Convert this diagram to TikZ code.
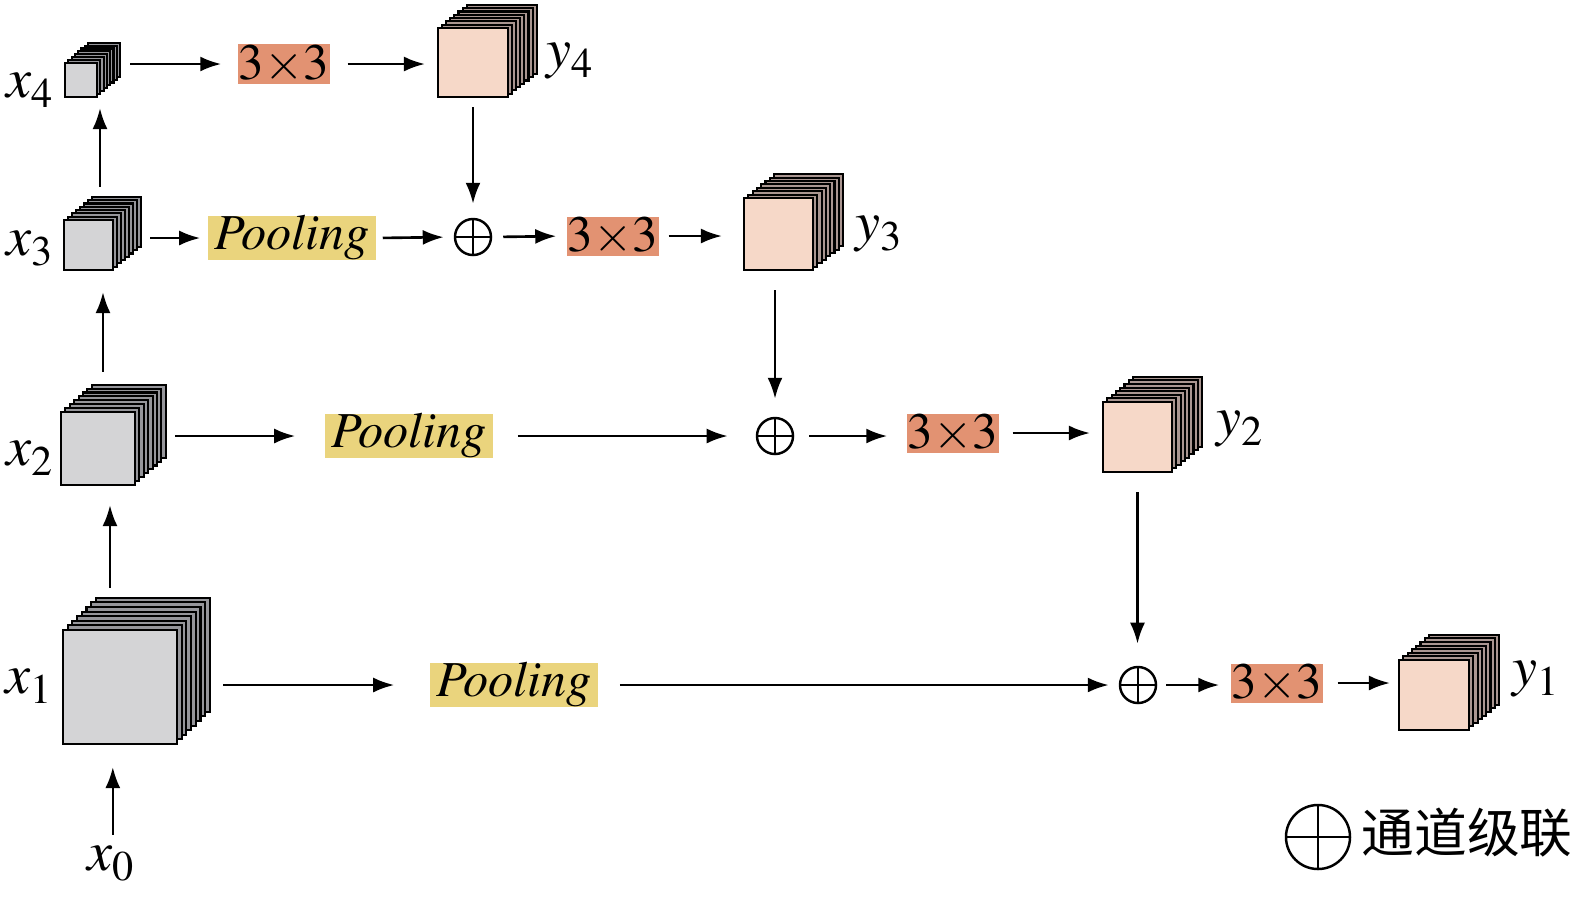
\documentclass[tikz,border=0pt]{standalone}
\usepackage[T1,TU]{fontenc}
\usepackage{fontspec}
\newfontfamily\cjk{Noto Sans CJK SC}
\newcommand\tms{\fontencoding{T1}\fontfamily{ptm}\selectfont}
\usetikzlibrary{arrows.meta}
\definecolor{convfill}{RGB}{226,146,114}
\definecolor{poolfill}{RGB}{234,212,125}
\definecolor{xface}{RGB}{212,212,214}
\definecolor{xback}{RGB}{150,150,155}
\definecolor{yface}{RGB}{246,216,200}
\definecolor{yback}{RGB}{170,150,145}
\newcommand\lab[2]{\textit{#1}\raisebox{-3pt}{\fontsize{12}{12}\selectfont #2}}
\newcommand\featstack[8]{%
  \foreach \k in {7,...,1}
    \draw[fill=#8back,line width=0.6pt] (#2-#4/2+\k*#6,#3-#5/2-\k*#7) rectangle ++(#4,#5);
  \node[fmap,fill=#8face,minimum width=#4*0.1mm,minimum height=#5*0.1mm] (#1) at (#2,#3) {};
}
\tikzset{
  fmap/.style={draw,line width=0.8pt,inner sep=0pt,outer sep=0pt},
  convbox/.style={fill=convfill,inner sep=0pt,minimum width=9.2mm,minimum height=3.9mm,font=\tms\fontsize{14.5}{14.5}\selectfont},
  poolbox/.style={fill=poolfill,inner sep=0pt,minimum width=16.8mm,minimum height=4.3mm,font=\tms\fontsize{14.3}{14.3}\selectfont\itshape},
  cat/.style={circle,draw,line width=0.7pt,inner sep=0pt,minimum size=3.6mm,
    path picture={\draw[line width=0.7pt] (path picture bounding box.north) -- (path picture bounding box.south)
      (path picture bounding box.west) -- (path picture bounding box.east);}},
  lbl/.style={inner sep=0pt,anchor=base west,font=\tms\fontsize{16}{16}\selectfont},
  arr/.style={-{Latex[length=2.1mm,width=1.5mm]},line width=0.75pt}
}
\begin{document}
\begin{tikzpicture}[x=0.01cm,y=-0.01cm]
    \useasboundingbox (0,0) rectangle (1575,908);
    \featstack{x4}{81}{80}{32}{34}{3.3}{2.9}{x}
    \featstack{x3}{88.5}{245}{49}{50}{4}{3.3}{x}
    \featstack{x2}{98}{448.5}{74}{73}{4.4}{3.9}{x}
    \featstack{x1}{120}{687}{114}{114}{4.7}{4.6}{x}
    \featstack{y4}{473}{62.5}{70}{69}{4.1}{3.3}{y}
    \featstack{y3}{778.5}{234}{69}{72}{4.3}{3.4}{y}
    \featstack{y2}{1137.5}{437}{69}{70}{4.3}{3.6}{y}
    \featstack{y1}{1434}{695}{70}{70}{4.3}{3.6}{y}
    \begin{scope}[every node/.style={lbl}]
        \node (lx4) at (6,97) {\lab{x}{4}};
        \node (lx3) at (6,255) {\lab{x}{3}};
        \node (lx2) at (6,465) {\lab{x}{2}};
        \node (lx1) at (5,693) {\lab{x}{1}};
        \node (x0) at (87,870) {\lab{x}{0}};
        \node (ly4) at (546,67) {\lab{y}{4}};
        \node (ly3) at (855,240) {\lab{y}{3}};
        \node (ly2) at (1216,435) {\lab{y}{2}};
        \node (ly1) at (1512,685) {\lab{y}{1}};
    \end{scope}
    \node[convbox] (c4) at (284,64) {3$\times$3};
    \node[convbox] (c3) at (613,236) {3$\times$3};
    \node[convbox] (c2) at (953,433) {3$\times$3};
    \node[convbox] (c1) at (1277,683) {3$\times$3};
    \node[poolbox] (p1) at (292,238) {Pooling};
    \node[poolbox] (p2) at (409,436) {Pooling};
    \node[poolbox] (p3) at (514,685) {Pooling};
    \node[cat] (o1) at (473,237) {};
    \node[cat] (o2) at (775,436) {};
    \node[cat] (o3) at (1138,685) {};
    \node[cat,minimum size=6.4mm] (key) at (1318,837) {};
    \node[anchor=west,inner sep=0pt,font=\cjk\fontsize{15}{15}\selectfont] (keytext) at (1361,833) {通道级联};
    \begin{scope}[every edge/.style={draw,arr}]
        \path
            (x4.east |- c4.west) edge [shorten <=3.3mm,shorten >=1.6mm] (c4.west)
            (c4.east) edge [shorten <=1.7mm,shorten >=1.3mm] (c4.east -| y4.west)
            (y4.south) edge [shorten <=1mm,shorten >=1.4mm] (o1.north)
            (x3.east |- p1.west) edge [shorten <=3.7mm,shorten >=0.7mm] (p1.west)
            (p1.east) edge [shorten <=0.6mm,shorten >=1mm] (o1.west)
            (o1.east) edge [shorten <=1.1mm,shorten >=1mm] (c3.west)
            (c3.east) edge [shorten <=0.9mm,shorten >=2.2mm] (c3.east -| y3.west)
            (o2.north |- y3.south) edge [shorten <=2mm,shorten >=1.8mm] (o2.north)
            (x2.east |- p2.west) edge [shorten <=4mm,shorten >=2.9mm] (p2.west)
            (p2.east) edge [shorten <=2.4mm,shorten >=2.8mm] (o2.west)
            (o2.east) edge [shorten <=1.5mm,shorten >=1.9mm] (o2.east -| c2.west)
            (c2.east) edge [shorten <=1.3mm,shorten >=1.3mm] (c2.east -| y2.west)
            (y2.south) edge [shorten <=2mm,shorten >=2.2mm] (y2.south |- o3.north)
            (x1.east |- p3.west) edge [shorten <=4.6mm,shorten >=3.5mm] (p3.west)
            (p3.east) edge [shorten <=2.1mm,shorten >=1mm] (o3.west)
            (o3.east) edge [shorten <=0.9mm,shorten >=1.1mm] (o3.east -| c1.west)
            (c1.east) edge [shorten <=1.4mm,shorten >=0.9mm] (c1.east -| y1.west)
            ([xshift=0.2mm]x0.north) edge [shorten <=1mm,shorten >=2.3mm] ([xshift=0.2mm]x0.north |- x1.south)
            ([xshift=-1mm]x1.north) edge [shorten <=4.2mm,shorten >=2mm] ([xshift=-1mm]x1.north |- x2.south)
            ([xshift=0.5mm]x2.north) edge [shorten <=4mm,shorten >=2.2mm] ([xshift=0.5mm]x2.north |- x3.south)
            ([xshift=1.15mm]x3.north) edge [shorten <=3.3mm,shorten >=1.1mm] ([xshift=1.15mm]x3.north |- x4.south);
    \end{scope}
\end{tikzpicture}
\end{document}
